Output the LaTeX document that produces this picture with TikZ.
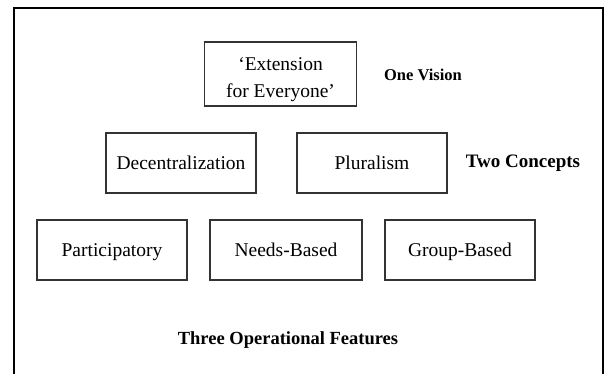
\documentclass[tikz,border=0pt]{standalone}
\usepackage{fontspec}
\setmainfont{Liberation Serif}
\begin{document}
\begin{tikzpicture}[x=1pt,y=-1pt,
  box/.style={draw=black!80, line width=1.1pt, minimum width=150pt, minimum height=60pt, inner sep=0pt, align=center, font=\fontsize{19.5}{27}\selectfont},
  one/.style={text height=15pt, text depth=2pt},
  lbl/.style={inner sep=0pt, font=\bfseries}]
\useasboundingbox (0,0) rectangle (610,373);
\draw[line width=2pt, black] (14,380) -- (14,8) -- (603,8) -- (603,380);
\node[box, minimum width=152pt, minimum height=64pt] (v) at (280.5,74) {\rule{0pt}{24pt}‘Extension\\for Everyone’};
\node[lbl, font=\bfseries\fontsize{16.5}{20}\selectfont] (vl) at (423,75) {One Vision};
\node[box, one] (dec) at (181,163) {Decentralization};
\node[box, one] (plu) at (372,163) {Pluralism};
\node[lbl, font=\bfseries\fontsize{19}{22}\selectfont] (cl) at (523,163) {Two Concepts};
\node[box, one] (par) at (112,250) {Participatory};
\node[box, one, minimum width=152pt] (nee) at (286,250) {Needs-Based};
\node[box, one] (gro) at (460,250) {Group-Based};
\node[lbl, font=\bfseries\fontsize{18.5}{22}\selectfont] (fl) at (288,340) {Three Operational Features};
\end{tikzpicture}
\end{document}
